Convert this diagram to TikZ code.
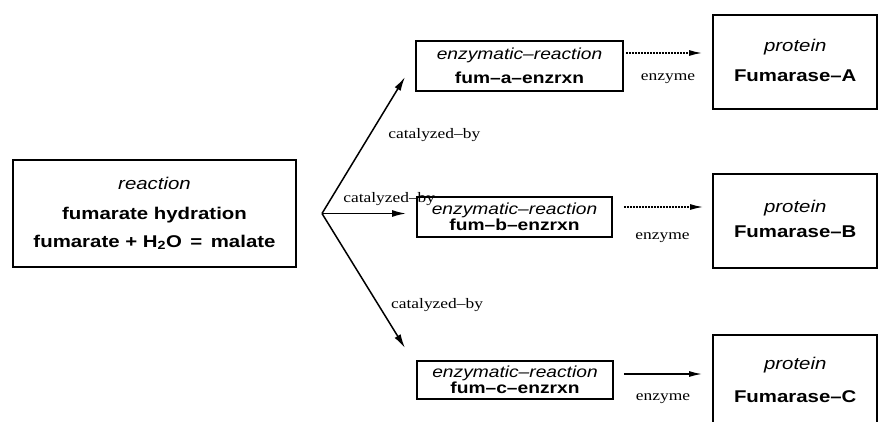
\documentclass[tikz,border=0pt]{standalone}
\usepackage{fontspec}
\usetikzlibrary{arrows.meta}
\newfontfamily\sansf{Liberation Sans}[FakeStretch=1.2]
\newfontfamily\serf{Liberation Serif}[FakeStretch=1.2]
\begin{document}
\begin{tikzpicture}[x=1pt,y=-1pt,
  box/.style={draw, line width=1.8pt, inner sep=0pt, align=center},
  rxn/.style={box, line width=2.2pt, minimum width=283pt, minimum height=107pt, font=\sansf\fontsize{17}{30}\selectfont},
  enz/.style={box, font=\sansf\fontsize{16}{18}\selectfont},
  prot/.style={draw, line width=2pt, anchor=north west, minimum height=94pt, inner xsep=21pt, font=\sansf\fontsize{17}{20}\selectfont},
  cat/.style={line width=1.5pt, -{Latex[length=14pt,width=7pt]}},
  enzarr/.style={line width=1.3pt, -{Latex[length=13pt,width=6pt]}},
  dots/.style={dash pattern=on 2pt off 1pt},
  lab/.style={font=\serf\fontsize{14.5}{16}\selectfont, inner sep=2pt}
]
\clip (0,0) rectangle (882,421);
\fill[white] (0,0) rectangle (882,421);

\node[rxn] (rxn) at (154.5,213.5) {\itshape reaction\\ \bfseries fumarate hydration\\[-2pt]\bfseries fumarate + H\textsubscript{2}O \,=\, malate};

\node[enz, minimum width=207pt, minimum height=50pt] (eA) at (519.5,66) {\itshape enzymatic–reaction\\[6pt] \bfseries fum–a–enzrxn};
\node[enz, minimum width=195pt, minimum height=40pt] (eB) at (514.5,217) {\itshape enzymatic–reaction\\[-2pt] \bfseries fum–b–enzrxn};
\node[enz, minimum width=196pt, minimum height=38pt] (eC) at (515,380) {\itshape enzymatic–reaction\\[-2pt] \bfseries fum–c–enzrxn};

\node[prot] (pA) at (712,14) {\begin{tabular}{@{}c@{}}\itshape protein\\[10pt]\bfseries Fumarase–A\end{tabular}\hspace{25pt}};
\node[prot] (pB) at (712,173) {\begin{tabular}{@{}c@{}}\itshape protein\\[5pt]\bfseries Fumarase–B\end{tabular}\hspace{25pt}};
\node[prot] (pC) at (712,334) {\begin{tabular}{@{}c@{}}\itshape protein\\[13pt]\bfseries Fumarase–C\end{tabular}\hspace{25pt}};

\coordinate (hub) at (322,213.5);
\coordinate (tA) at (405,77);
\coordinate (tB) at (406,213.5);
\coordinate (tC) at (405,348);

\draw[cat] (hub) -- node[lab, pos=0.574, anchor=west, xshift=16pt] {catalyzed–by} (tA);
\draw[cat] (hub) -- node[lab, pos=0.8, anchor=south, yshift=5pt] {catalyzed–by} (tB);
\draw[cat] (hub) -- node[lab, pos=0.68, anchor=west, xshift=10pt] {catalyzed–by} (tC);

\draw[enzarr, dots, shorten <=2pt, shorten >=10pt] (eA.east |- 0,53) -- node[lab, below=18pt] {enzyme} (pA.west |- 0,53);
\draw[enzarr, dots, shorten <=11pt, shorten >=9pt] (eB.east |- 0,207) -- node[lab, below=23pt] {enzyme} (pB.west |- 0,207);
\draw[enzarr, shorten <=10pt, shorten >=10pt] (eC.east |- 0,374) -- node[lab, below=17pt] {enzyme} (pC.west |- 0,374);
\end{tikzpicture}
\end{document}
